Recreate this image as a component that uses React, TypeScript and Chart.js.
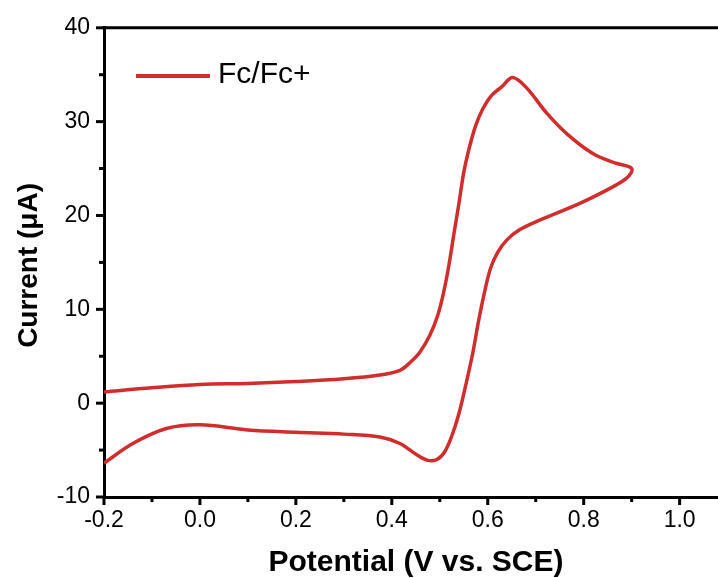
import React, { useEffect, useRef } from 'react';
import { Chart, registerables } from 'chart.js';

Chart.register(...registerables);

// Forward (anodic) scan
const forwardPotential = [-0.2, -0.1, 0.0, 0.1, 0.2, 0.3, 0.375, 0.417, 0.4375, 0.458, 0.479, 0.496, 0.508, 0.519, 0.529, 0.54, 0.55, 0.5625, 0.575, 0.59, 0.608, 0.629, 0.652, 0.681, 0.723, 0.765, 0.819, 0.865, 0.9];
const forwardCurrent = [1.2, 1.65, 2.0, 2.1, 2.3, 2.6, 3.0, 3.5, 4.3, 5.4, 7.2, 9.4, 11.8, 14.7, 17.9, 21.3, 24.6, 27.4, 29.6, 31.4, 32.8, 33.7, 34.7, 33.6, 30.9, 28.7, 26.6, 25.6, 25.0];
// Reverse (cathodic) scan
const reversePotential = [0.89, 0.848, 0.792, 0.708, 0.667, 0.64, 0.621, 0.606, 0.594, 0.581, 0.569, 0.554, 0.54, 0.525, 0.51, 0.494, 0.475, 0.452, 0.417, 0.375, 0.3, 0.2, 0.1, 0.0, -0.07, -0.14, -0.2];
const reverseCurrent = [24.0, 22.7, 21.3, 19.5, 18.5, 17.4, 16.1, 14.4, 12.0, 8.8, 5.4, 1.9, -1.1, -3.5, -5.2, -6.0, -6.1, -5.5, -4.3, -3.6, -3.3, -3.1, -2.85, -2.3, -2.7, -4.3, -6.4];

const seriesLabel = 'Fc/Fc+';
const xTitle = 'Potential (V vs. SCE)';
const yTitle = 'Current (\u03bcA)';
const xMin = -0.2;
const xMax = 1.08;
const xStep = 0.2;
const yMin = -10;
const yMax = 40;
const yStep = 10;

const RED = '#d22d2d';
const FONT = "'Liberation Sans', Arial, sans-serif";

export default function App() {
  const canvasRef = useRef<HTMLCanvasElement | null>(null);

  useEffect(() => {
    const canvas = canvasRef.current;
    if (!canvas) return;

    const points = [
      ...forwardPotential.map((x, i) => ({ x, y: forwardCurrent[i] })),
      ...reversePotential.map((x, i) => ({ x, y: reverseCurrent[i] })),
    ];

    const decorPlugin = {
      id: 'decor',
      afterDraw(chart: any) {
        const ctx = chart.ctx;
        const ca = chart.chartArea;
        const xs = chart.scales.x;
        const ys = chart.scales.y;
        ctx.save();
        ctx.strokeStyle = '#000';
        ctx.lineWidth = 3;
        ctx.lineCap = 'butt';
        // top border
        ctx.beginPath();
        ctx.moveTo(ca.left - 1.5, ca.top);
        ctx.lineTo(ca.right, ca.top);
        ctx.stroke();
        // x ticks (major + minor)
        for (let k = 0; ; k++) {
          const v = xMin + k * (xStep / 2);
          if (v > xMax + 1e-9) break;
          const px = xs.getPixelForValue(v);
          const len = k % 2 === 0 ? 8 : 5;
          ctx.beginPath();
          ctx.moveTo(px, ca.bottom);
          ctx.lineTo(px, ca.bottom + len);
          ctx.stroke();
        }
        // y ticks (major + minor)
        for (let k = 0; ; k++) {
          const v = yMin + k * (yStep / 2);
          if (v > yMax + 1e-9) break;
          const py = ys.getPixelForValue(v);
          const len = k % 2 === 0 ? 8 : 5;
          ctx.beginPath();
          ctx.moveTo(ca.left, py);
          ctx.lineTo(ca.left - len, py);
          ctx.stroke();
        }
        // legend
        ctx.strokeStyle = RED;
        ctx.lineWidth = 4;
        ctx.beginPath();
        ctx.moveTo(136, 76);
        ctx.lineTo(210, 76);
        ctx.stroke();
        ctx.fillStyle = '#000';
        ctx.font = `30px ${FONT}`;
        ctx.textAlign = 'left';
        ctx.textBaseline = 'middle';
        ctx.fillText(seriesLabel, 218, 75);
        // axis titles
        ctx.font = `bold 30px ${FONT}`;
        ctx.textAlign = 'center';
        ctx.textBaseline = 'alphabetic';
        ctx.fillText(xTitle, (ca.left + ca.right) / 2 + 5, 571);
        ctx.font = `bold 28px ${FONT}`;
        ctx.save();
        ctx.translate(37, (ca.top + ca.bottom) / 2 + 3);
        ctx.rotate(-Math.PI / 2);
        ctx.fillText(yTitle, 0, 0);
        ctx.restore();
        ctx.restore();
      },
    };

    const chart = new Chart(canvas, {
      type: 'scatter',
      data: {
        datasets: [
          {
            label: seriesLabel,
            data: points,
            showLine: true,
            borderColor: RED,
            backgroundColor: RED,
            borderWidth: 3.5,
            pointRadius: 0,
            tension: 0.35,
            fill: false,
          },
        ],
      },
      options: {
        animation: false,
        responsive: false,
        maintainAspectRatio: false,
        layout: { padding: { top: 27, left: 0, right: 0, bottom: 0 } },
        plugins: {
          legend: { display: false },
          tooltip: { enabled: false },
        },
        scales: {
          x: {
            type: 'linear',
            position: 'bottom',
            min: xMin,
            max: xMax,
            afterFit: (scale: any) => {
              scale.height = 81;
            },
            ticks: {
              stepSize: xStep,
              includeBounds: false,
              padding: 10,
              color: '#000',
              font: { family: FONT, size: 23 },
              maxRotation: 0,
              callback: (v: any) => Number(v).toFixed(1),
            },
            grid: { display: false, drawTicks: false },
            border: { display: true, color: '#000', width: 3 },
          },
          y: {
            type: 'linear',
            position: 'left',
            min: yMin,
            max: yMax,
            afterFit: (scale: any) => {
              scale.width = 104;
            },
            ticks: {
              stepSize: yStep,
              includeBounds: false,
              padding: 14,
              color: '#000',
              font: { family: FONT, size: 23 },
              callback: (v: any) => String(Math.round(Number(v))),
            },
            grid: { display: false, drawTicks: false },
            border: { display: true, color: '#000', width: 3 },
          },
        },
      },
      plugins: [decorPlugin],
    });

    return () => chart.destroy();
  }, []);

  return (
    <div style={{ position: 'absolute', left: 0, top: 0, width: 718, height: 578, background: '#fff' }}>
      <canvas ref={canvasRef} width={718} height={578} style={{ display: 'block' }} />
    </div>
  );
}
